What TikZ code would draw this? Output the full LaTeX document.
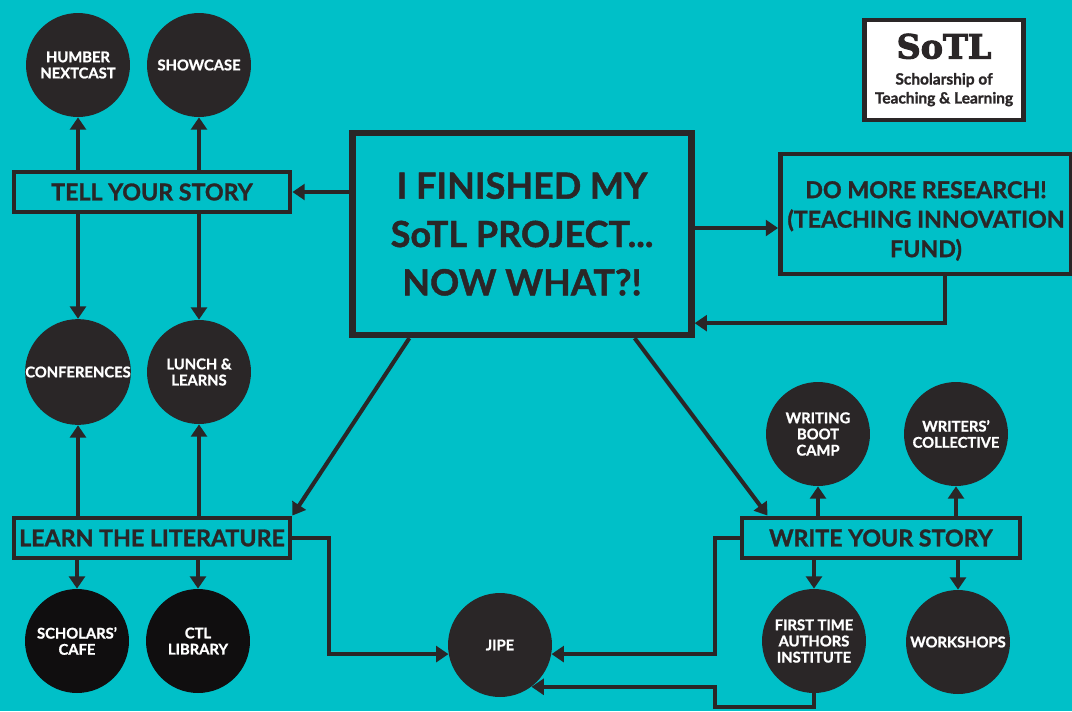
\documentclass[tikz,border=0pt]{standalone}
\usepackage{fontspec}
\setmainfont{Lato}[BoldFeatures={FakeBold=1.2}]
\newfontfamily\slabfont{DejaVu Serif}[BoldFeatures={FakeBold=3}]
\usepackage{tikz}
\usetikzlibrary{arrows.meta,calc}

\definecolor{bgteal}{HTML}{00C0C8}
\definecolor{ink}{HTML}{2A2627}
\definecolor{deepink}{HTML}{100E0F}

\tikzset{
  arr/.style={draw=ink, line width=2.3pt, -{Triangle[length=7pt,width=9pt]}},
  bigbox/.style={draw=ink, line width=3.6pt, minimum width=6.78cm, minimum height=4.04cm,
    inner sep=0pt, align=center, text=ink, font=\bfseries\fontsize{20.5}{27.5}\selectfont},
  labelbox/.style={draw=ink, line width=2.8pt, minimum width=5.52cm, minimum height=0.8cm,
    inner sep=0pt, text=ink, font=\bfseries\fontsize{13.2}{16}\selectfont},
  dot/.style={circle, fill=ink, minimum size=2.08cm, inner sep=0pt, align=center,
    text=white, font=\bfseries\fontsize{8.4}{9.2}\selectfont},
  darkdot/.style={dot, fill=deepink},
  logobox/.style={draw=ink, fill=white, line width=2.4pt, minimum width=3.18cm,
    minimum height=2.0cm, inner sep=0pt, align=center, text=ink,
    font=\bfseries\fontsize{8.8}{10.8}\selectfont},
}

\begin{document}
\begin{tikzpicture}[x=0.02cm, y=-0.02cm]
    % background
    \useasboundingbox (0,0) rectangle (1072,711);
    \clip (0,0) rectangle (1072,711);
    \fill[bgteal] (0,0) rectangle (1072,711);

    % the big question
    \node[bigbox] (main) at (522,234) {I FINISHED MY\\SoTL PROJECT...\\NOW WHAT?!};
    \node[labelbox, minimum width=5.82cm, minimum height=2.4cm,
      label={[yshift=-0.14cm, align=center, text=ink,
        font=\bfseries\fontsize{13.2}{16.8}\selectfont]center:DO MORE RESEARCH!\\(TEACHING INNOVATION\\FUND)}]
      (more) at (926,214) {};

    % logo
    \node[logobox] (logo) at (944,70)
      {{\slabfont\bfseries\fontsize{19}{20}\selectfont SoTL}\\[4pt]
       Scholarship of\\Teaching \& Learning};

    % left side
    \node[labelbox] (tell) at (152,192) {TELL YOUR STORY};
    \node[labelbox] (learn) at (152,538) {LEARN THE LITERATURE};
    \node[dot] (humber) at (78,65) {HUMBER\\NEXTCAST};
    \node[dot] (showcase) at (199,65) {SHOWCASE};
    \node[dot] (conf) at (78,372) {CONFERENCES};
    \node[dot] (lunch) at (199,372) {LUNCH \&\\LEARNS};
    \node[darkdot] (cafe) at (77,641) {SCHOLARS'\\CAFE};
    \node[darkdot] (ctl) at (198,641) {CTL\\LIBRARY};

    % right side
    \node[labelbox, minimum width=5.56cm] (write) at (881,538) {WRITE YOUR STORY};
    \node[dot] (boot) at (818,434) {WRITING\\BOOT\\CAMP};
    \node[dot] (writers) at (956,434) {WRITERS'\\COLLECTIVE};
    \node[dot] (fta) at (814,641) {FIRST TIME\\AUTHORS\\INSTITUTE};
    \node[dot] (shops) at (958,642) {WORKSHOPS};
    \node[dot] (jipe) at (500,645) {JIPE};
    \coordinate (loop) at (715,707);

    % connectors
    \draw[arr] (tell.east -| main.west) -- (tell.east);
    \draw[arr] (humber |- tell.north) -- (humber.south);
    \draw[arr] (showcase |- tell.north) -- (showcase.south);
    \draw[arr] (conf |- tell.south) -- (conf.north);
    \draw[arr] (lunch |- tell.south) -- (lunch.north);
    \draw[arr] (conf |- learn.north) -- (conf.south);
    \draw[arr] (lunch |- learn.north) -- (lunch.south);
    \draw[arr] (cafe |- learn.south) -- (cafe.north);
    \draw[arr] (ctl |- learn.south) -- (ctl.north);
    \draw[arr] ([yshift=0.12cm]main.east) -- ([yshift=0.12cm]main.east -| more.west);
    \draw[arr] ([xshift=0.38cm]more.south) |- ([yshift=0.3cm]main.south east);
    \draw[arr] ([xshift=1.2cm]main.south west) -- (learn.north east);
    \draw[arr] ([xshift=-1.2cm]main.south east) -- ([xshift=0.56cm]write.north west);
    \draw[arr] (learn.east) -- ++(37,0) |- (jipe.190);
    \draw[arr] (write.west) -- ++(-25,0) |- (jipe.-10);
    \draw[arr] (fta.south) |- (loop) |- (jipe.-53);
    \draw[arr] (boot |- write.north) -- (boot.south);
    \draw[arr] (writers |- write.north) -- (writers.south);
    \draw[arr] (fta |- write.south) -- (fta.north);
    \draw[arr] (shops |- write.south) -- (shops.north);
\end{tikzpicture}
\end{document}
